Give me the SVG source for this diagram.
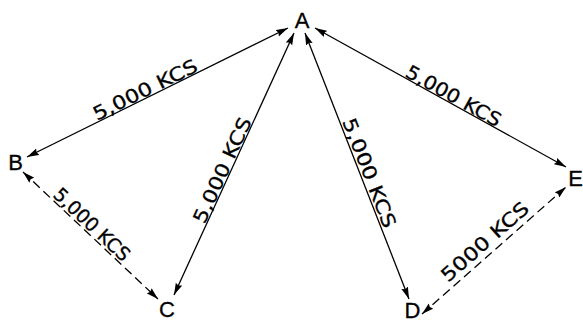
<svg xmlns="http://www.w3.org/2000/svg" width="583" height="322" viewBox="0 0 583 322">
<style>
.node{font-family:"Liberation Sans",Arial,sans-serif;font-size:22px;fill:#000;stroke:#000;stroke-width:0.3;text-anchor:middle}
.lbl{font-family:"DejaVu Sans","Liberation Sans",sans-serif;font-size:19px;fill:#000;stroke:#000;stroke-width:0.3}
.edge{stroke:#000;stroke-width:1.3;fill:none;marker-start:url(#ah);marker-end:url(#ah)}
.dash{stroke-dasharray:9 5}
</style>
<defs>
<marker id="ah" markerUnits="userSpaceOnUse" markerWidth="13" markerHeight="8" refX="12" refY="3.5" orient="auto-start-reverse" viewBox="0 0 13 7">
<path d="M0,0 L12,3.5 L0,7 L1.5,3.5 z" fill="#000"/>
</marker>
</defs>
<rect width="583" height="322" fill="#fff"/>
<g id="connectors">
<line class="edge" x1="27" y1="157" x2="288" y2="28"/>
<line class="edge" x1="174" y1="295" x2="294" y2="33"/>
<line class="edge" x1="305" y1="33" x2="409" y2="299"/>
<line class="edge" x1="315" y1="28" x2="566" y2="167"/>
<line class="edge dash" x1="23" y1="172" x2="158" y2="299"/>
<line class="edge dash" x1="422" y1="314" x2="566" y2="187"/>
</g>
<g id="edge-labels">
<text class="lbl" transform="translate(97,121) rotate(-26.3)" textLength="114" lengthAdjust="spacingAndGlyphs">5,000 KCS</text>
<text class="lbl" transform="translate(404,76) rotate(29)" textLength="106" lengthAdjust="spacingAndGlyphs">5,000 KCS</text>
<text class="lbl" transform="translate(204.6,224.8) rotate(-65.4)" textLength="114" lengthAdjust="spacingAndGlyphs">5,000 KCS</text>
<text class="lbl" transform="translate(342,121.3) rotate(68.6)" textLength="116" lengthAdjust="spacingAndGlyphs">5,000 KCS</text>
<text class="lbl" transform="translate(52,196) rotate(43.25)" textLength="97" lengthAdjust="spacingAndGlyphs">5,000 KCS</text>
<text class="lbl" transform="translate(448,283) rotate(-41.4)" textLength="110" lengthAdjust="spacingAndGlyphs">5000 KCS</text>
</g>
<g id="node-A"><text class="node" x="302" y="28">A</text></g>
<g id="node-B"><text class="node" x="15.5" y="170">B</text></g>
<g id="node-C"><text class="node" x="167" y="316.5">C</text></g>
<g id="node-D"><text class="node" x="412.5" y="318">D</text></g>
<g id="node-E"><text class="node" x="575.5" y="186">E</text></g>
</svg>
